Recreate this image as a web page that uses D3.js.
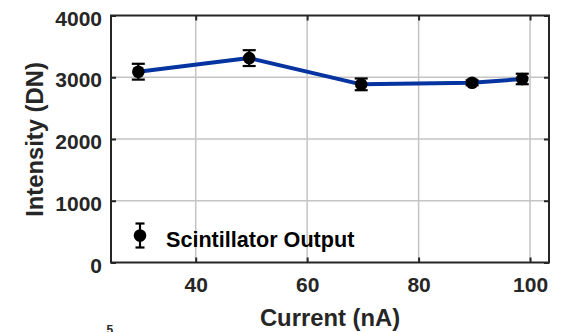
<!DOCTYPE html>
<html>
<head>
<meta charset="utf-8">
<script src="https://cdn.jsdelivr.net/npm/d3@7"></script>
<style>
  html, body { margin: 0; padding: 0; background: #fff; }
  svg { display: block; font-family: "Liberation Sans", Arial, sans-serif; }
</style>
</head>
<body>
<svg id="chart" width="564" height="332"></svg>
<script>
// Beam current (nA) vs. measured scintillator intensity (DN)
const currents = [29.7, 49.6, 69.7, 89.6, 98.6];
const intensity = [3090, 3310, 2885, 2910, 2972];
const errors = [128, 128, 95, 40, 85];
const xTicks = [40, 60, 80, 100];
const yTicks = [0, 1000, 2000, 3000, 4000];
const seriesName = "Scintillator Output";

(function () {
const svg = d3.select("#chart");
const margin = { left: 111, right: 15, top: 15.5, bottom: 69.5 };
const W = 564, H = 332;
const x = d3.scaleLinear().domain([24.8, 103.4]).range([margin.left, W - margin.right]);
const y = d3.scaleLinear().domain([0, 4000]).range([H - margin.bottom, margin.top]);

const axisColor = "#262626";
const FONT = "'Liberation Sans', Arial, sans-serif";

// grid
const grid = svg.append("g");
grid.selectAll(".gx").data(xTicks).join("line")
  .attr("x1", d => x(d)).attr("x2", d => x(d))
  .attr("y1", y(0)).attr("y2", y(4000))
  .attr("stroke", "#c4c4c4").attr("stroke-width", 1.5);
grid.selectAll(".gy").data(yTicks.slice(1, -1)).join("line")
  .attr("x1", x.range()[0]).attr("x2", x.range()[1])
  .attr("y1", d => y(d)).attr("y2", d => y(d))
  .attr("stroke", "#c4c4c4").attr("stroke-width", 1.5);

// axes (ticks pointing inward on all four sides)
const tickLen = 5;
const fontTick = `bold 21px ${FONT}`;
const fmt = d3.format("d");
const axBottom = svg.append("g").attr("transform", `translate(0,${y(0)})`)
  .call(d3.axisBottom(x).tickValues(xTicks).tickFormat(fmt).tickSize(-tickLen).tickPadding(15));
const axTop = svg.append("g").attr("transform", `translate(0,${y(4000)})`)
  .call(d3.axisTop(x).tickValues(xTicks).tickSize(-tickLen).tickFormat(""));
const axLeft = svg.append("g").attr("transform", `translate(${x.range()[0]},0)`)
  .call(d3.axisLeft(y).tickValues(yTicks).tickFormat(fmt).tickSize(-tickLen).tickPadding(9));
const axRight = svg.append("g").attr("transform", `translate(${x.range()[1]},0)`)
  .call(d3.axisRight(y).tickValues(yTicks).tickSize(-tickLen).tickFormat(""));
[axBottom, axTop, axLeft, axRight].forEach(g => {
  g.select(".domain").remove();
  g.selectAll(".tick line").attr("stroke", axisColor).attr("stroke-width", 2);
  g.selectAll(".tick text").style("font", fontTick).attr("fill", axisColor);
});
axLeft.selectAll(".tick text").attr("dy", "0.46em");

// box
svg.append("rect")
  .attr("x", x.range()[0]).attr("y", y(4000))
  .attr("width", x.range()[1] - x.range()[0]).attr("height", y(0) - y(4000))
  .attr("fill", "none").attr("stroke", axisColor).attr("stroke-width", 2);

// series line
const pts = currents.map((c, i) => ({ c, v: intensity[i], e: errors[i] }));
svg.append("path").datum(pts)
  .attr("fill", "none").attr("stroke", "#0534a0").attr("stroke-width", 4)
  .attr("stroke-linejoin", "round")
  .attr("d", d3.line().x(d => x(d.c)).y(d => y(d.v)));

// error bars and markers
const eb = svg.append("g").attr("stroke", "#000").attr("stroke-width", 2.2);
const capW = 6.5;
pts.forEach(d => {
  const cx = x(d.c);
  eb.append("line").attr("x1", cx).attr("x2", cx).attr("y1", y(d.v - d.e)).attr("y2", y(d.v + d.e));
  eb.append("line").attr("x1", cx - capW).attr("x2", cx + capW).attr("y1", y(d.v - d.e)).attr("y2", y(d.v - d.e));
  eb.append("line").attr("x1", cx - capW).attr("x2", cx + capW).attr("y1", y(d.v + d.e)).attr("y2", y(d.v + d.e));
});
svg.append("g").selectAll("circle").data(pts).join("circle")
  .attr("cx", d => x(d.c)).attr("cy", d => y(d.v)).attr("r", 6.3).attr("fill", "#000");

// legend
const lg = svg.append("g").attr("transform", "translate(140,235.5)");
lg.append("line").attr("x1", 0).attr("x2", 0).attr("y1", -12).attr("y2", 12).attr("stroke", "#000").attr("stroke-width", 2.2);
lg.append("line").attr("x1", -4.5).attr("x2", 4.5).attr("y1", -12).attr("y2", -12).attr("stroke", "#000").attr("stroke-width", 2.2);
lg.append("line").attr("x1", -4.5).attr("x2", 4.5).attr("y1", 12).attr("y2", 12).attr("stroke", "#000").attr("stroke-width", 2.2);
lg.append("circle").attr("r", 6.3).attr("fill", "#000");
lg.append("text").attr("x", 26).attr("y", 11).text(seriesName)
  .style("font", `bold 21.6px ${FONT}`).attr("fill", "#000");

// axis titles
svg.append("text").attr("x", 330).attr("y", 326).attr("text-anchor", "middle")
  .style("font", `bold 23.8px ${FONT}`).attr("fill", axisColor)
  .text("Current (nA)");
svg.append("text").attr("transform", "translate(43,139.5) rotate(-90)").attr("text-anchor", "middle")
  .style("font", `bold 23.8px ${FONT}`).attr("fill", axisColor)
  .text("Intensity (DN)");

// exponent label along the lower edge
svg.append("text").attr("x", 106.5).attr("y", 334)
  .style("font", `bold 12px ${FONT}`).attr("fill", axisColor).text("5");
})();
</script>
</body>
</html>
